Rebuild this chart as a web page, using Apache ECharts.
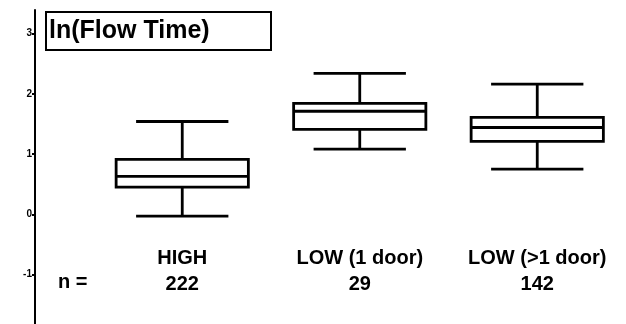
<!DOCTYPE html>
<html>
<head>
<meta charset="utf-8">
<script src="https://cdn.jsdelivr.net/npm/echarts@6/dist/echarts.min.js"></script>
<style>
  * { margin: 0; padding: 0; }
  html, body { background: #fff; }
</style>
</head>
<body>
<div id="main" style="width: 626px; height: 324px;"></div>
<script>
  // groups and sample sizes
  var categories = ['HIGH', 'LOW (1 door)', 'LOW (>1 door)'];
  var counts = [222, 29, 142];
  // box stats per group: min whisker, q1, median, q3, max whisker
  var whiskerLow = [-0.03, 1.08, 0.75];
  var q1 = [0.45, 1.41, 1.21];
  var median = [0.63, 1.71, 1.44];
  var q3 = [0.91, 1.84, 1.61];
  var whiskerHigh = [1.54, 2.34, 2.16];

  var boxData = categories.map(function (c, i) {
    return [i, whiskerLow[i], q1[i], median[i], q3[i], whiskerHigh[i]];
  });

  var font = '"Liberation Sans", Arial, Helvetica, sans-serif';

  function renderItem(params, api) {
    var i = api.value(0);
    var lo = api.coord([i, api.value(1)]);
    var b1 = api.coord([i, api.value(2)]);
    var md = api.coord([i, api.value(3)]);
    var b3 = api.coord([i, api.value(4)]);
    var hi = api.coord([i, api.value(5)]);
    var band = api.size([1, 0])[0];
    var bw = band * 0.745;
    var cw = band * 0.52;
    var cx = lo[0];
    var st = { stroke: '#000', lineWidth: 2.8, fill: null };
    return {
      type: 'group',
      children: [
        { type: 'line', shape: { x1: cx, y1: hi[1], x2: cx, y2: b3[1] }, style: st },
        { type: 'line', shape: { x1: cx, y1: b1[1], x2: cx, y2: lo[1] }, style: st },
        { type: 'line', shape: { x1: cx - cw / 2, y1: hi[1], x2: cx + cw / 2, y2: hi[1] }, style: st },
        { type: 'line', shape: { x1: cx - cw / 2, y1: lo[1], x2: cx + cw / 2, y2: lo[1] }, style: st },
        { type: 'rect', shape: { x: cx - bw / 2, y: b3[1], width: bw, height: b1[1] - b3[1] }, style: st },
        { type: 'line', shape: { x1: cx - bw / 2, y1: md[1], x2: cx + bw / 2, y2: md[1] }, style: st }
      ]
    };
  }

  var chart = echarts.init(document.getElementById('main'));
  chart.setOption({
    animation: false,
    title: {
      text: 'ln(Flow Time)',
      left: 46,
      top: 12,
      padding: [5, 62, 5, 3],
      borderColor: '#000',
      borderWidth: 2,
      textStyle: {
        fontFamily: font,
        fontWeight: 'bold',
        fontSize: 25,
        lineHeight: 28,
        color: '#000'
      }
    },
    grid: { left: 93.5, width: 540, top: 10, bottom: 0 },
    xAxis: {
      type: 'category',
      data: categories,
      boundaryGap: true,
      offset: -79,
      axisLine: { show: false },
      axisTick: { show: false },
      splitLine: { show: false },
      axisLabel: {
        margin: 0,
        interval: 0,
        fontFamily: font,
        fontWeight: 'bold',
        fontSize: 20,
        lineHeight: 26,
        color: '#000',
        formatter: function (v, idx) {
          return v + '\n' + counts[idx];
        }
      }
    },
    yAxis: {
      type: 'value',
      min: -1.82,
      max: 3.39,
      offset: 58.5,
      splitLine: { show: false },
      axisLine: { show: true, lineStyle: { color: '#000', width: 2 } },
      axisTick: { show: true, length: 3, lineStyle: { color: '#000', width: 2 } },
      axisLabel: {
        margin: 3,
        showMinLabel: false,
        showMaxLabel: false,
        fontFamily: font,
        fontWeight: 'bold',
        fontSize: 10,
        color: '#000'
      }
    },
    graphic: [
      {
        type: 'text',
        left: 58,
        top: 272,
        style: {
          text: 'n =',
          font: 'bold 20px ' + font,
          fill: '#000'
        }
      }
    ],
    series: [
      {
        type: 'custom',
        renderItem: renderItem,
        encode: { x: 0, y: [1, 2, 3, 4, 5] },
        data: boxData
      }
    ]
  });
</script>
</body>
</html>
